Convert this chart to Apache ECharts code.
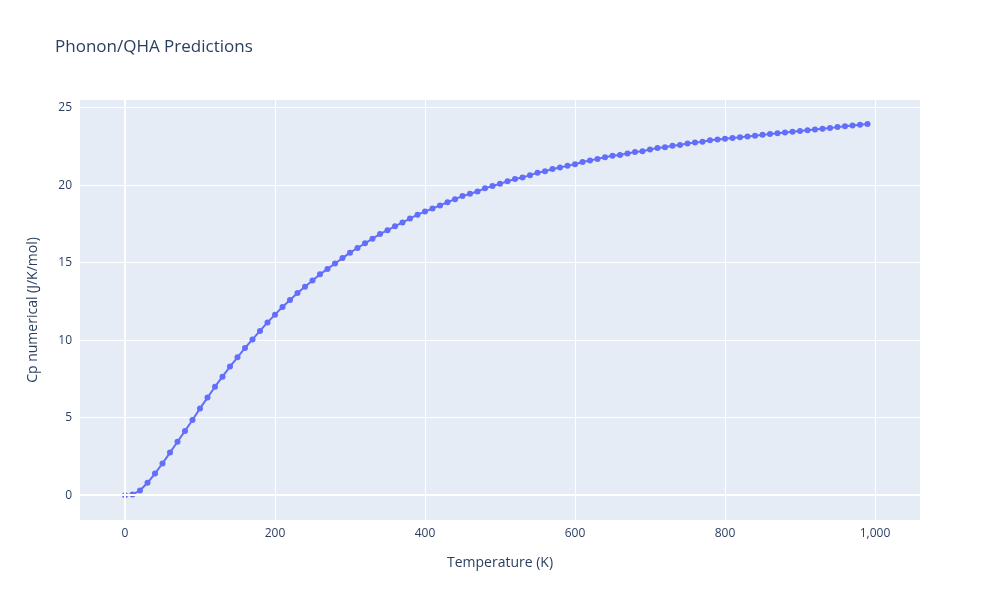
<!DOCTYPE html><html><head><meta charset="utf-8">
<script src="https://cdn.jsdelivr.net/npm/echarts@6/dist/echarts.min.js"></script>
<style>html,body{margin:0;padding:0}#c{width:1000px;height:600px}</style></head><body><div id="c"></div>
<script>
const temperatures = [];
for (let t = 0; t <= 990; t += 10) temperatures.push(t);
const cpValues = [0,0.05,0.3,0.8,1.4,2.05,2.75,3.45,4.15,4.85,5.6,6.3,7.0,7.65,8.3,8.9,9.5,10.05,10.6,11.15,
11.65,12.15,12.6,13.05,13.45,13.85,14.25,14.6,14.95,15.3,15.65,15.95,16.25,16.55,16.85,17.1,17.35,17.6,17.85,18.1,
18.3,18.5,18.7,18.9,19.1,19.3,19.45,19.6,19.8,19.95,20.1,20.25,20.4,20.5,20.65,20.8,20.9,21.05,21.15,21.25,
21.35,21.5,21.6,21.7,21.8,21.9,21.95,22.05,22.15,22.2,22.3,22.4,22.45,22.55,22.6,22.7,22.75,22.8,22.9,22.95,
23.0,23.05,23.1,23.15,23.2,23.25,23.3,23.35,23.4,23.45,23.5,23.55,23.6,23.65,23.7,23.75,23.8,23.85,23.9,23.95];
const xTicks = [0,200,400,600,800,1000];
const yTicks = [0,5,10,15,20,25];
const font = 'Open Sans, sans-serif';
const chart = echarts.init(document.getElementById('c'));
chart.setOption({
  backgroundColor:'#fff',
  title:{text:'Phonon/QHA Predictions',left:50,top:34,textStyle:{fontFamily:font,fontSize:17,fontWeight:'normal',color:'#2a3f5f'}},
  grid:{left:80,right:80,top:100,bottom:80,show:true,backgroundColor:'#E5ECF6',borderWidth:0},
  xAxis:{type:'value',min:-60,max:1060,name:'Temperature (K)',nameLocation:'middle',nameGap:36,
    nameTextStyle:{fontFamily:font,fontSize:14,color:'#2a3f5f'},
    axisLine:{show:false},axisTick:{show:false,customValues:xTicks},
    axisLabel:{customValues:xTicks,fontFamily:font,fontSize:12,color:'#2a3f5f'},
    splitLine:{show:true,lineStyle:{color:'#fff',width:1}}},
  yAxis:{type:'value',min:-1.6,max:25.5,name:'Cp numerical (J/K/mol)',nameLocation:'middle',nameGap:40,
    nameTextStyle:{fontFamily:font,fontSize:14,color:'#2a3f5f'},
    axisLine:{show:false},axisTick:{show:false,customValues:yTicks},
    axisLabel:{customValues:yTicks,fontFamily:font,fontSize:12,color:'#2a3f5f'},
    splitLine:{show:true,lineStyle:{color:'#fff',width:1}}},
  series:[{type:'line',data:temperatures.map((t,i)=>[t,cpValues[i]]),symbol:'circle',symbolSize:6,
    lineStyle:{color:'#636EFA',width:2},itemStyle:{color:'#636EFA'},animation:false,
    markLine:{silent:true,symbol:'none',label:{show:false},lineStyle:{color:'#fff',width:2,type:'solid'},data:[{yAxis:0},{xAxis:0}]}}]
});
</script></body></html>
